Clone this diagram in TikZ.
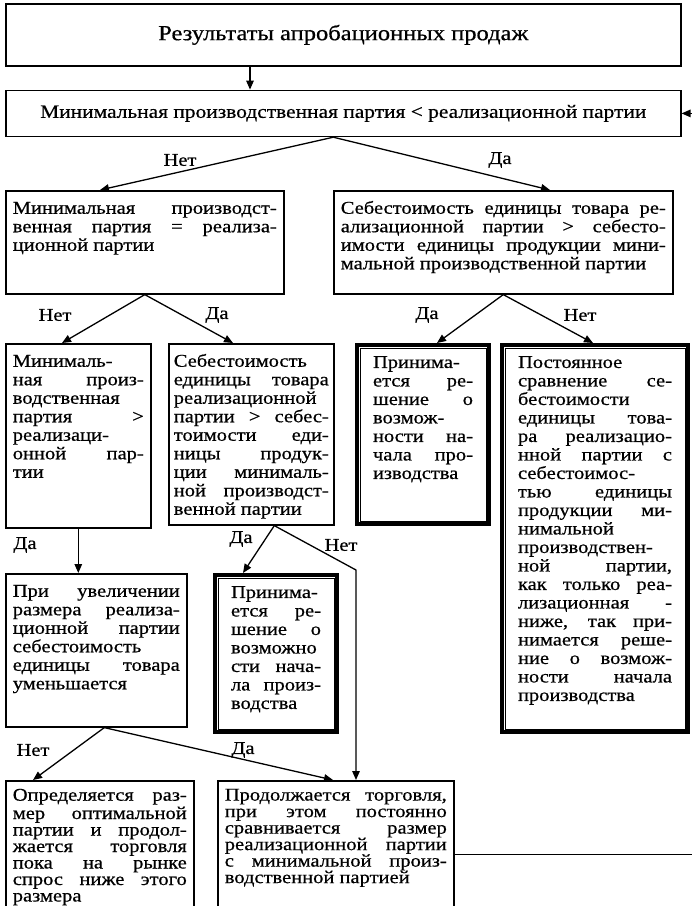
\documentclass[tikz,border=0pt]{standalone}
\usepackage{fontspec}
\setmainfont{Liberation Serif}[FakeStretch=1.14, FakeBold=0.6]
\usetikzlibrary{arrows.meta,positioning,calc}
\newcommand{\bodyfont}{\fontsize{18}{18.5}\selectfont}
\newcommand{\boxtext}[3]{\parbox[t][#2pt][t]{#1pt}{\strut#3}}
\hyphenpenalty=10000
\tolerance=10000

\begin{document}
\begin{tikzpicture}[
    x=1pt, y=-1pt,
    box/.style={draw, line width=1.6pt, anchor=north west, inner xsep=7pt, inner ysep=10pt, font=\bodyfont},
    dbox/.style={box, line width=4pt, inner xsep=16pt},
    lowbox/.style={box, inner ysep=8pt, font=\fontsize{18}{16.5}\selectfont},
    lbl/.style={font=\bodyfont, inner sep=1pt},
    arrow/.style={-{Triangle[length=9pt,width=7.5pt]}, line width=1.3pt}
]
    \path[use as bounding box, clip] (0,0) rectangle (692,906);

    \node[box, minimum width=675pt, minimum height=62pt, font=\fontsize{21.5}{24}\selectfont] (top) at (5,3) {Результаты апробационных продаж};
    \node[box, below=23pt of top, minimum width=675pt, minimum height=46pt, inner ysep=0pt, font=\fontsize{18.8}{20}\selectfont] (cond) {Минимальная производственная партия < реализационной партии};

    \node[box] (l2) at (5,190) {\boxtext{264}{83}{Минимальная производст-\linebreak венная партия = реализа-\linebreak ционной партии}};
    \node[box] (r2) at (333,190) {\boxtext{325}{83}{Себестоимость единицы товара ре-\linebreak ализационной партии > себесто-\linebreak имости единицы продукции мини-\linebreak мальной производственной партии}};

    \node[box] (l3a) at (5,343) {\boxtext{131}{164}{Минималь-\linebreak ная произ-\linebreak водственная\linebreak партия >\linebreak реализаци-\linebreak онной пар-\linebreak тии}};
    \node[box, inner xsep=5pt] (l3b) at (168,343) {\boxtext{155}{161}{Себестоимость\linebreak единицы товара\linebreak реализационной\linebreak партии > себес-\linebreak тоимости еди-\linebreak ницы продук-\linebreak ции минималь-\linebreak ной производст-\linebreak венной партии}};
    \node[dbox] (r3a) at (355,343) {\boxtext{100}{159}{Принима-\linebreak ется ре-\linebreak шение о\linebreak возмож-\linebreak ности на-\linebreak чала про-\linebreak изводства}};
    \node[dbox] (r3b) at (500,343) {\boxtext{154}{367}{Постоянное\linebreak сравнение се-\linebreak бестоимости\linebreak единицы това-\linebreak ра реализацио-\linebreak нной партии с\linebreak себестоимос-\linebreak тью единицы\linebreak продукции ми-\linebreak нимальной\linebreak производствен-\linebreak ной партии,\linebreak как только реа-\linebreak лизационная -\linebreak ниже, так при-\linebreak нимается реше-\linebreak ние о возмож-\linebreak ности начала\linebreak производства}};

    \node[box] (l4a) at (5,573) {\boxtext{167}{133}{При увеличении\linebreak размера реализа-\linebreak ционной партии\linebreak себестоимость\linebreak единицы товара\linebreak уменьшается}};
    \node[dbox] (l4b) at (213,573) {\boxtext{90}{137}{Принима-\linebreak ется ре-\linebreak шение о\linebreak возможно\linebreak сти нача-\linebreak ла произ-\linebreak водства}};

    \node[lowbox] (b1) at (5,780) {\boxtext{174}{132}{Определяется раз-\linebreak мер оптимальной\linebreak партии и продол-\linebreak жается торговля\linebreak пока на рынке\linebreak спрос ниже этого\linebreak размера}};
    \node[lowbox] (b2) at (217,780) {\boxtext{222}{132}{Продолжается торговля,\linebreak при этом постоянно\linebreak сравнивается размер\linebreak реализационной партии\linebreak с минимальной произ-\linebreak водственной партией}};

    % inner frame of the decision boxes
    \foreach \n in {r3a,r3b,l4b}
        \draw[line width=0.8pt] ($(\n.north west)+(5,5)$) rectangle ($(\n.south east)+(-5,-5)$);

    \node[lbl] (no1) at (180,160) {Нет};
    \node[lbl] (yes1) at (500,160) {Да};
    \node[lbl] (no2) at (55,315) {Нет};
    \node[lbl] (yes2) at (217,315) {Да};
    \node[lbl] (yes3) at (427,315) {Да};
    \node[lbl] (no3) at (580,315) {Нет};
    \node[lbl] (yes4) at (25,545) {Да};
    \node[lbl] (yes5) at (241,539) {Да};
    \node[lbl] (no5) at (341,545) {Нет};
    \node[lbl] (no6) at (33,750) {Нет};
    \node[lbl] (yes6) at (243,750) {Да};

    \coordinate (bend) at (356,570);

    \draw[arrow] ($(top.south west)+(245,0)$) -- ($(cond.north west)+(245,0)$);
    \draw[arrow] ($(cond.south)+(-10,0)$) -- ($(l2.north west)+(95,0)$);
    \draw[arrow] ($(cond.south)+(-10,0)$) -- ($(r2.north west)+(217,0)$);
    \draw[arrow] (l2.south) -- ($(l3a.north west)+(57,0)$);
    \draw[arrow] (l2.south) -- ($(l3b.north west)+(65,0)$);
    \draw[arrow] (r2.south) -- ($(r3a.north west)+(82,0)$);
    \draw[arrow] (r2.south) -- ($(r3b.north west)+(93,0)$);
    \draw[arrow] (l3a.south) -- (l3a.south |- l4a.north);
    \draw[arrow] ($(l3b.south)+(23,0)$) -- ($(l4b.north west)+(30,0)$);
    \draw[arrow] ($(l3b.south)+(23,0)$) -- (bend) -- (bend |- b2.north);
    \draw[arrow] ($(l4a.south)+(8,0)$) -- ($(b1.north west)+(28,0)$);
    \draw[arrow] ($(l4a.south)+(8,0)$) -- ($(b2.north west)+(116,0)$);
    \draw[arrow] (b2.east) -- ++(250,0) |- (cond.east);
\end{tikzpicture}
\end{document}
